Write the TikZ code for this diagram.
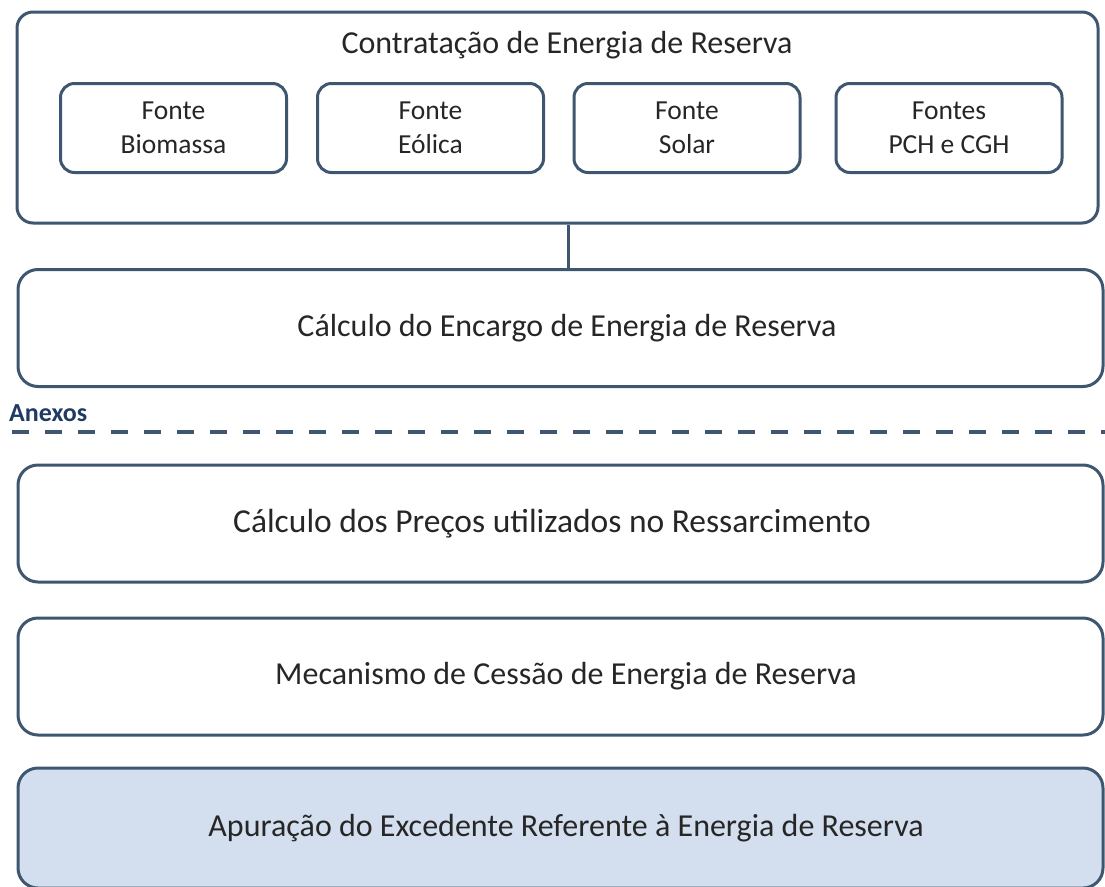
\documentclass[tikz,border=0pt]{standalone}
\usepackage{fontspec}
\setmainfont{Carlito}
\begin{document}
\begin{tikzpicture}[x=1pt,y=-1pt,
  frame/.style={draw=bordc,line width=3pt,rounded corners=16pt,fill=white,inner sep=0pt},
  small/.style={draw=bordc,line width=3pt,rounded corners=14pt,minimum width=226pt,minimum height=89pt,align=center,font=\fontsize{27.5}{34}\selectfont,text=txtc,inner sep=0pt},
  big/.style={draw=bordc,line width=3pt,rounded corners=20pt,minimum width=1085pt,minimum height=117pt,inner sep=0pt},
  bigtext/.style={font=\fontsize{32}{38}\selectfont,text=txtc,inner sep=0pt}]
\definecolor{bordc}{HTML}{3E5670}
\definecolor{txtc}{HTML}{262626}
\definecolor{fillc}{HTML}{D3DFEE}
\definecolor{anexc}{HTML}{1F3B63}
\useasboundingbox (0,0) rectangle (1105,886);
\node[frame,minimum width=1081pt,minimum height=211pt] (top) at (557.5,117.5) {};
\node[bigtext] (toptitle) at (567,45) {Contratação de Energia de Reserva};
\node[small] (bio) at (173.5,128) {Fonte\\Biomassa};
\node[small] (eol) at (430.5,128) {Fonte\\Eólica};
\node[small] (sol) at (687,128) {Fonte\\Solar};
\node[small] (pch) at (949,128) {Fontes\\PCH e CGH};
\node[big] (enc) at (560.5,328) {};
\node[bigtext] (enct) at (567,328) {Cálculo do Encargo de Energia de Reserva};
\draw[draw=bordc,line width=3pt] (top.south -| 568,0) -- (enc.north -| 568,0);
\node[font=\bfseries\fontsize{26}{30}\selectfont,text=anexc,anchor=base west,inner sep=0pt] (anx) at (9,421) {Anexos};
\coordinate (dl) at (12,432);
\coordinate (dr) at (1105,432);
\draw[draw=bordc,line width=3.5pt,dash pattern=on 17pt off 16pt] (dl) -- (dr);
\node[big] (pre) at (560.5,523.5) {};
\node[bigtext,font=\fontsize{33.5}{38}\selectfont] (pret) at (552,523.5) {Cálculo dos Preços utilizados no Ressarcimento};
\node[big] (mec) at (560.5,676.5) {};
\node[bigtext] (mect) at (566,676.5) {Mecanismo de Cessão de Energia de Reserva};
\node[big,minimum height=120pt,fill=fillc] (apu) at (560.5,828) {};
\node[bigtext] (aput) at (566,828) {Apuração do Excedente Referente à Energia de Reserva};
\end{tikzpicture}
\end{document}
